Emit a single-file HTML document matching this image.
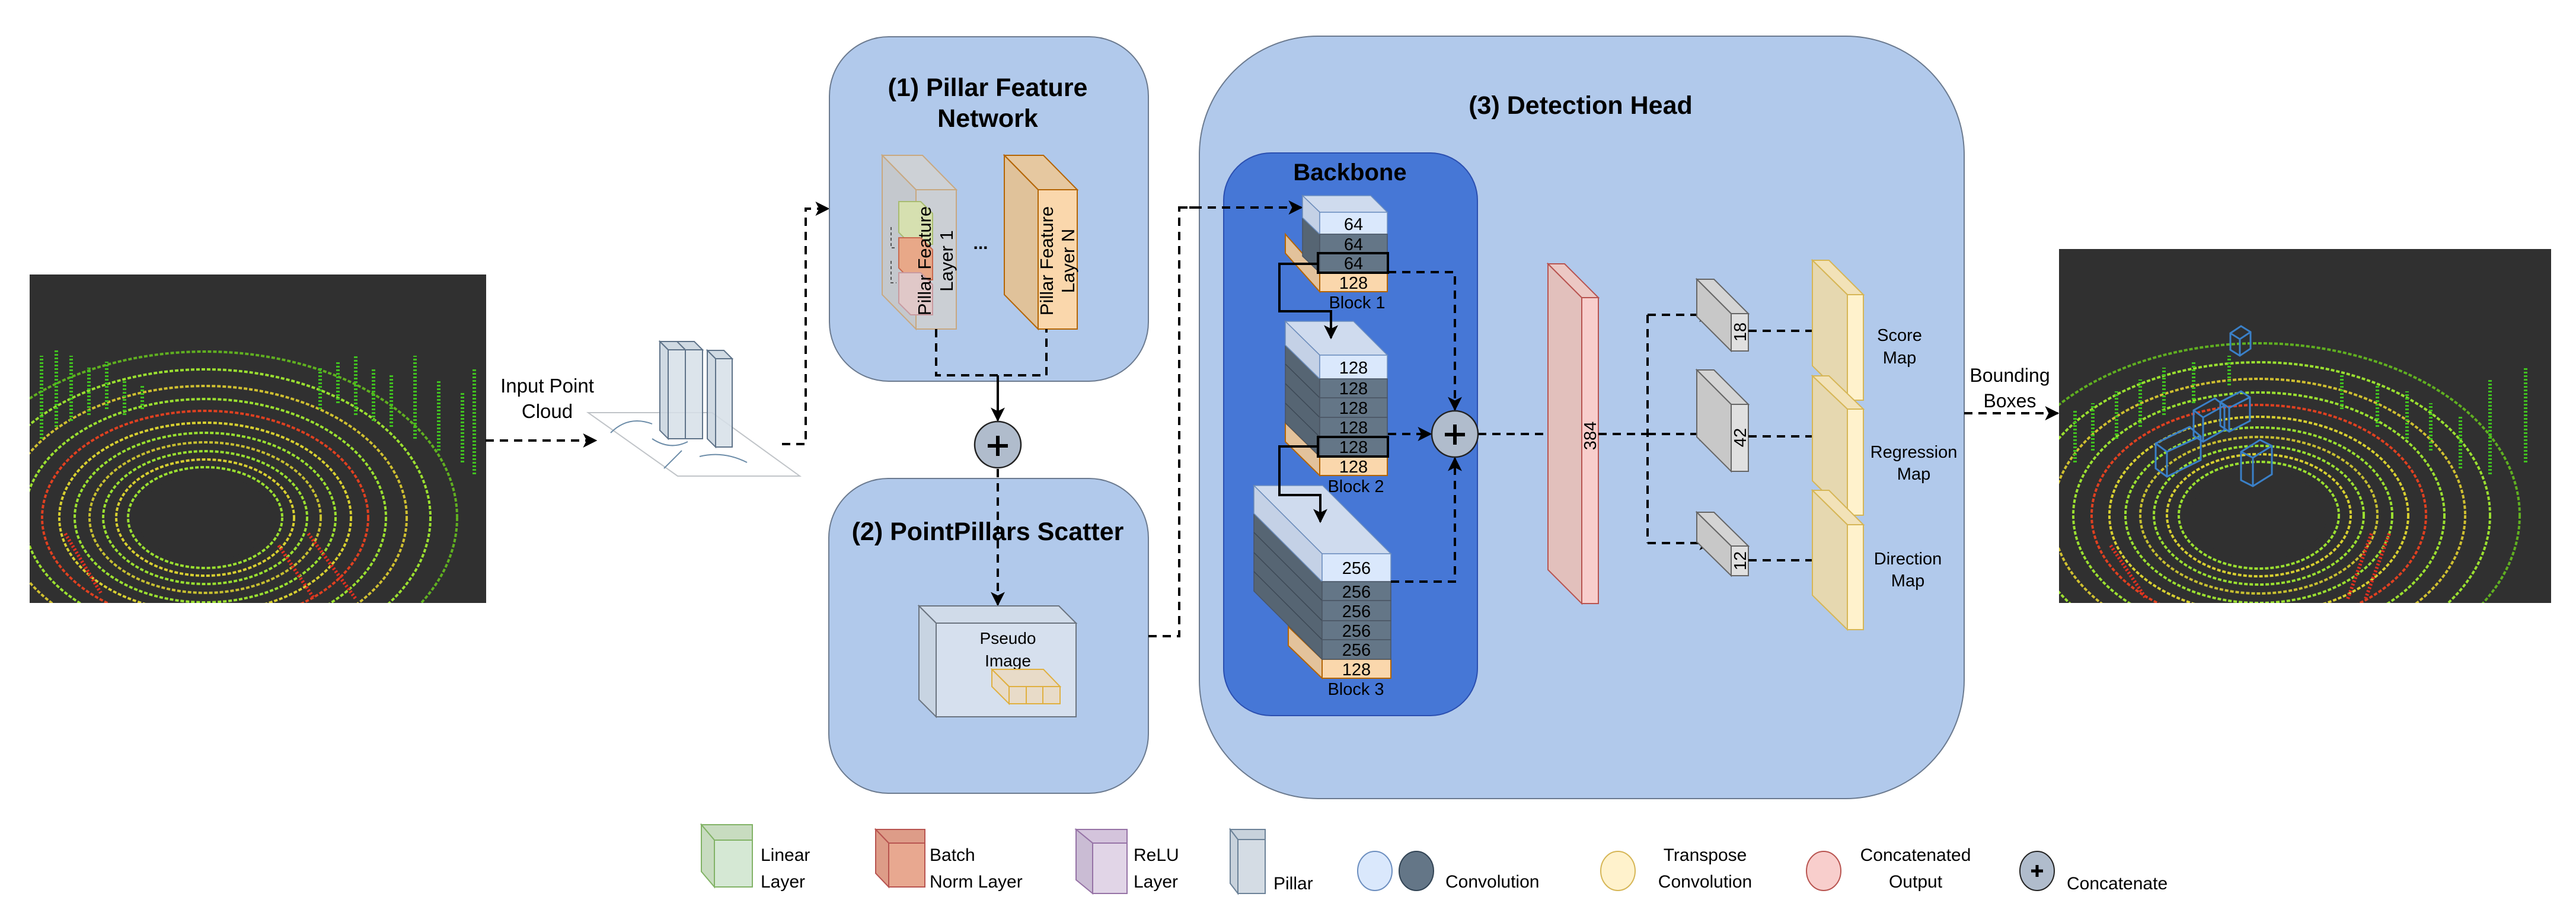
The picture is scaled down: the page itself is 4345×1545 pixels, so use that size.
<!DOCTYPE html>
<html><head><meta charset="utf-8"><style>
html,body{margin:0;padding:0;background:#fff;}
svg{display:block;}
text{font-family:"Liberation Sans",sans-serif;fill:#000;}
</style></head><body>
<svg width="4345" height="1545" viewBox="0 0 4345 1545" xmlns="http://www.w3.org/2000/svg">
<defs>
<marker id="a" viewBox="0 0 20 20" refX="18" refY="10" markerWidth="24" markerHeight="24" markerUnits="userSpaceOnUse" orient="auto">
<path d="M0,0 L20,10 L0,20 L5,10 Z" fill="#000"/></marker>
<clipPath id="cl"><rect x="50" y="463" width="770" height="554"/></clipPath>
<clipPath id="cr"><rect x="3473" y="420" width="830" height="597"/></clipPath>
</defs>

<!-- Left point cloud image -->
<rect x="50" y="463" width="770" height="554" fill="#303030"/>
<g clip-path="url(#cl)" fill="none" stroke-width="4">
<g stroke="#9be030" stroke-dasharray="6 3">
<ellipse cx="346" cy="873" rx="130" ry="85"/>
<ellipse cx="346" cy="873" rx="150" ry="98" stroke="#d8d030"/>
<ellipse cx="346" cy="873" rx="172" ry="112"/>
<ellipse cx="346" cy="873" rx="195" ry="127" stroke="#c8c030"/>
<ellipse cx="346" cy="873" rx="220" ry="143"/>
<ellipse cx="346" cy="873" rx="246" ry="160" stroke="#d8d030"/>
<ellipse cx="346" cy="873" rx="275" ry="180" stroke="#e04020"/>
<ellipse cx="346" cy="873" rx="305" ry="200"/>
<ellipse cx="346" cy="873" rx="340" ry="222" stroke="#d0c030"/>
<ellipse cx="346" cy="873" rx="380" ry="250"/>
<ellipse cx="346" cy="873" rx="425" ry="280" stroke="#60b020"/>
</g>
<g stroke="#40c020" stroke-dasharray="3 3" stroke-width="6">
<path d="M70,740 L70,600 M95,720 L95,590 M120,710 L120,600 M150,700 L150,620 M180,690 L180,610 M210,700 L210,640 M240,690 L240,650 M540,690 L540,620 M570,680 L570,610 M600,700 L600,600 M630,710 L630,620 M660,720 L660,630 M700,740 L700,600 M740,760 L740,640 M780,780 L780,660 M800,800 L800,620"/>
<path d="M520,900 L600,1010 M470,920 L530,1010 M110,900 L170,1000" stroke="#e03020"/>
</g>
<ellipse cx="346" cy="873" rx="115" ry="72" fill="#303030" stroke="none"/>
</g>

<!-- Input arrow & label -->
<path d="M819,743 L1005,743" stroke="#000" stroke-width="4" stroke-dasharray="14 10" fill="none" marker-end="url(#a)"/>
<text x="923" y="662" font-size="33" text-anchor="middle">Input Point</text>
<text x="923" y="705" font-size="33" text-anchor="middle">Cloud</text>

<!-- Plane + pillars -->
<polygon points="992,696 1201,696 1349,803 1143,803" fill="#fff" stroke="#c0c4c8" stroke-width="2"/>
<path d="M1030,730 Q1060,700 1100,715 M1100,740 Q1130,760 1160,745 M1180,770 Q1220,760 1260,780 M1120,790 Q1140,770 1150,760" stroke="#6c8ca8" stroke-width="2" fill="none"/>
<g fill="#c8d3de" fill-opacity="0.85" stroke="#5f7389" stroke-width="2">
<polygon points="1113,576 1142,576 1156,590 1127,590"/>
<polygon points="1113,576 1127,590 1127,740 1113,726"/>
<rect x="1127" y="590" width="29" height="150" fill="#d6dfe8"/>
<polygon points="1142,576 1171,576 1185,590 1156,590"/>
<rect x="1156" y="590" width="29" height="150" fill="#d6dfe8"/>
<polygon points="1193,591 1221,591 1235,605 1207,605"/>
<polygon points="1193,591 1207,605 1207,754 1193,740"/>
<rect x="1207" y="605" width="28" height="149" fill="#d6dfe8"/>
</g>
<path d="M1319,749 L1359,749 L1359,352 L1397,352" stroke="#000" stroke-width="4" stroke-dasharray="14 10" fill="none" marker-end="url(#a)"/>

<!-- Box 1 -->
<rect x="1399" y="62" width="538" height="581" rx="100" fill="#b1c9eb" stroke="#6b7a8f" stroke-width="2"/>
<text x="1666" y="162" font-size="43" font-weight="bold" text-anchor="middle">(1) Pillar Feature</text>
<text x="1666" y="214" font-size="43" font-weight="bold" text-anchor="middle">Network</text>
<g stroke="#c8a880" stroke-width="2">
<polygon points="1488,262 1556,262 1613,320 1545,320" fill="#d2d2d2" fill-opacity="0.85"/>
<polygon points="1488,262 1545,320 1545,555 1488,497" fill="#c8c8c8" fill-opacity="0.85"/>
<rect x="1545" y="320" width="68" height="235" fill="#d0d0d0" fill-opacity="0.85"/>
</g>
<g stroke-width="2">
<polygon points="1516,340 1553,340 1573,360 1573,412 1536,412 1516,392" fill="#d6e0b0" stroke="#a8bc70"/>
<polygon points="1516,401 1553,401 1573,421 1573,472 1536,472 1516,452" fill="#e8a888" stroke="#c86a50"/>
<polygon points="1516,460 1553,460 1573,480 1573,531 1536,531 1516,511" fill="#e0c8c8" stroke="#c89aa0"/>
</g>
<path d="M1503,383 L1503,418 L1512,418 M1503,440 L1503,477 L1512,477" stroke="#555" stroke-width="2" stroke-dasharray="5 4" fill="none"/>
<text transform="translate(1570,440) rotate(-90)" font-size="31" text-anchor="middle">Pillar Feature</text>
<text transform="translate(1607,440) rotate(-90)" font-size="31" text-anchor="middle">Layer 1</text>
<text x="1654" y="420" font-size="30" font-weight="bold" text-anchor="middle">...</text>
<g stroke="#b46504" stroke-width="2">
<polygon points="1694,262 1760,262 1817,320 1751,320" fill="#e6c8a0"/>
<polygon points="1694,262 1751,320 1751,555 1694,497" fill="#e0c29a"/>
<rect x="1751" y="320" width="66" height="235" fill="#fad7ac"/>
</g>
<text transform="translate(1776,440) rotate(-90)" font-size="31" text-anchor="middle">Pillar Feature</text>
<text transform="translate(1812,440) rotate(-90)" font-size="31" text-anchor="middle">Layer N</text>
<path d="M1579,555 L1579,633 L1765,633 L1765,555" stroke="#000" stroke-width="4" stroke-dasharray="14 10" fill="none"/>
<path d="M1683,633 L1683,709" stroke="#000" stroke-width="4" fill="none" marker-end="url(#a)"/>
<circle cx="1683" cy="750" r="39" fill="#b0bccc" stroke="#222" stroke-width="2.5"/>
<path d="M1666,752 L1700,752 M1683,735 L1683,769" stroke="#000" stroke-width="6"/>

<!-- Box 2 -->
<rect x="1398" y="807" width="539" height="531" rx="100" fill="#b1c9eb" stroke="#6b7a8f" stroke-width="2"/>
<text x="1666" y="911" font-size="43" font-weight="bold" text-anchor="middle">(2) PointPillars Scatter</text>
<path d="M1683,791 L1683,1020" stroke="#000" stroke-width="4" stroke-dasharray="14 10" fill="none" marker-end="url(#a)"/>
<g stroke="#6b7480" stroke-width="2">
<polygon points="1550,1022 1786,1022 1815,1051 1579,1051" fill="#d0dbe9"/>
<polygon points="1550,1022 1579,1051 1579,1209 1550,1180" fill="#c8d4e2"/>
<rect x="1579" y="1051" width="236" height="158" fill="#d6e0ee"/>
</g>
<text x="1700" y="1086" font-size="28" text-anchor="middle">Pseudo</text>
<text x="1700" y="1124" font-size="28" text-anchor="middle">Image</text>
<g stroke="#e0b040" stroke-width="2" fill="#f0d8b8" fill-opacity="0.7">
<polygon points="1673,1129 1760,1129 1788,1158 1702,1158"/>
<polygon points="1673,1129 1702,1158 1702,1187 1673,1158"/>
<rect x="1702" y="1158" width="29" height="29"/><rect x="1731" y="1158" width="28" height="29"/><rect x="1759" y="1158" width="29" height="29"/>
</g>
<path d="M1937,1073 L1989,1073 L1989,350 L2195,350" stroke="#000" stroke-width="4" stroke-dasharray="14 10" fill="none" marker-end="url(#a)"/>

<!-- Box 3 -->
<rect x="2023" y="61" width="1290" height="1286" rx="200" fill="#b1c9eb" stroke="#6b7a8f" stroke-width="2"/>
<text x="2666" y="192" font-size="43" font-weight="bold" text-anchor="middle">(3) Detection Head</text>
<rect x="2064" y="258" width="428" height="949" rx="80" fill="#4677d6" stroke="#2b4fb0" stroke-width="2"/>
<text x="2277" y="304" font-size="40" font-weight="bold" text-anchor="middle">Backbone</text>
<path d="M1989,350 L2195,350" stroke="#000" stroke-width="4" stroke-dasharray="14 10" fill="none" marker-end="url(#a)"/>

<!-- Block 1 -->
<g stroke="#b46504" stroke-width="2">
<polygon points="2168,395 2226,460 2226,492 2168,427" fill="#e3c29b"/>
<rect x="2226" y="460" width="114" height="32" fill="#fad7ac"/>
</g>
<g stroke="#4a5563" stroke-width="1.5">
<polygon points="2197,330 2312,330 2340,358 2226,358" fill="#cfdbee" stroke="#6c8ebf"/>
<polygon points="2197,330 2226,358 2226,460 2197,432" fill="#566573"/>
<polygon points="2197,330 2226,358 2226,395 2197,367" fill="#c4d1e6" stroke="#6c8ebf"/>
<rect x="2226" y="358" width="114" height="37" fill="#dae8fc" stroke="#6c8ebf"/>
<rect x="2226" y="395" width="114" height="32" fill="#647687"/>
<rect x="2226" y="427" width="114" height="33" fill="#647687"/>
</g>
<rect x="2223" y="427" width="118" height="33" fill="none" stroke="#000" stroke-width="4"/>
<g font-size="29" text-anchor="middle">
<text x="2283" y="388">64</text><text x="2283" y="422">64</text><text x="2283" y="454">64</text><text x="2283" y="487">128</text>
</g>
<text x="2289" y="520" font-size="29" text-anchor="middle">Block 1</text>

<!-- Block 2 -->
<g stroke="#b46504" stroke-width="2">
<polygon points="2168,713 2226,770 2226,802 2168,745" fill="#e3c29b"/>
<rect x="2226" y="770" width="114" height="32" fill="#fad7ac"/>
</g>
<g stroke="#4a5563" stroke-width="1.5">
<polygon points="2168,542 2283,542 2340,599 2226,599" fill="#cfdbee" stroke="#6c8ebf"/>
<polygon points="2168,542 2226,599 2226,770 2168,713" fill="#566573"/>
<polygon points="2168,542 2226,599 2226,639 2168,582" fill="#c4d1e6" stroke="#6c8ebf"/>
<path d="M2168,614 L2226,671 M2168,647 L2226,704 M2168,680 L2226,737" stroke="#3c4855"/>
<rect x="2226" y="599" width="114" height="40" fill="#dae8fc" stroke="#6c8ebf"/>
<rect x="2226" y="639" width="114" height="32" fill="#647687"/>
<rect x="2226" y="671" width="114" height="33" fill="#647687"/>
<rect x="2226" y="704" width="114" height="33" fill="#647687"/>
<rect x="2226" y="737" width="114" height="33" fill="#647687"/>
</g>
<rect x="2223" y="737" width="118" height="33" fill="none" stroke="#000" stroke-width="4"/>
<g font-size="29" text-anchor="middle">
<text x="2283" y="630">128</text><text x="2283" y="665">128</text><text x="2283" y="698">128</text><text x="2283" y="731">128</text><text x="2283" y="764">128</text><text x="2283" y="797">128</text>
</g>
<text x="2287" y="830" font-size="29" text-anchor="middle">Block 2</text>

<!-- Block 3 -->
<g stroke="#b46504" stroke-width="2">
<polygon points="2173,1057 2230,1112 2230,1144 2173,1089" fill="#e3c29b"/>
<rect x="2230" y="1112" width="116" height="32" fill="#fad7ac"/>
</g>
<g stroke="#4a5563" stroke-width="1.5">
<polygon points="2115,819 2231,819 2346,934 2230,934" fill="#cfdbee" stroke="#6c8ebf"/>
<polygon points="2115,819 2230,934 2230,1112 2115,997" fill="#566573"/>
<polygon points="2115,819 2230,934 2230,981 2115,866" fill="#c4d1e6" stroke="#6c8ebf"/>
<path d="M2115,898 L2230,1013 M2115,932 L2230,1047 M2115,964 L2230,1079" stroke="#3c4855"/>
<rect x="2230" y="934" width="116" height="47" fill="#dae8fc" stroke="#6c8ebf"/>
<rect x="2230" y="981" width="116" height="32" fill="#647687"/>
<rect x="2230" y="1013" width="116" height="34" fill="#647687"/>
<rect x="2230" y="1047" width="116" height="32" fill="#647687"/>
<rect x="2230" y="1079" width="116" height="33" fill="#647687"/>
</g>
<g font-size="29" text-anchor="middle">
<text x="2288" y="968">256</text><text x="2288" y="1008">256</text><text x="2288" y="1041">256</text><text x="2288" y="1074">256</text><text x="2288" y="1106">256</text><text x="2288" y="1139">128</text>
</g>
<text x="2287" y="1172" font-size="29" text-anchor="middle">Block 3</text>

<path d="M2223,445 L2158,445 L2158,525 L2245,525 L2245,570" stroke="#000" stroke-width="4" fill="none" marker-end="url(#a)"/>
<path d="M2223,753 L2158,753 L2158,835 L2227,835 L2227,880" stroke="#000" stroke-width="4" fill="none" marker-end="url(#a)"/>
<g stroke="#000" stroke-width="4" stroke-dasharray="14 10" fill="none">
<path d="M2341,459 L2454,459 L2454,691" marker-end="url(#a)"/>
<path d="M2341,732 L2413,732" marker-end="url(#a)"/>
<path d="M2346,981 L2454,981 L2454,773" marker-end="url(#a)"/>
<path d="M2493,732 L2654,732" marker-end="url(#a)"/>
</g>
<circle cx="2454" cy="732" r="39" fill="#b0bccc" stroke="#222" stroke-width="2.5"/>
<path d="M2437,733 L2471,733 M2454,716 L2454,750" stroke="#000" stroke-width="6"/>

<g stroke="#b85450" stroke-width="2">
<polygon points="2611,445 2668,502 2668,1018 2611,961" fill="#e2c0bc"/>
<polygon points="2611,445 2639,445 2696,502 2668,502" fill="#ecc8c4"/>
<rect x="2668" y="502" width="28" height="516" fill="#f8cecc"/>
</g>
<text transform="translate(2692,735) rotate(-90)" font-size="29" text-anchor="middle">384</text>
<g stroke="#000" stroke-width="4" stroke-dasharray="14 10" fill="none">
<path d="M2696,732 L2779,732"/>
<path d="M2779,531 L2779,916"/>
<path d="M2779,531 L2888,531" marker-end="url(#a)"/>
<path d="M2779,732 L2888,732" marker-end="url(#a)"/>
<path d="M2779,916 L2888,916" marker-end="url(#a)"/>
</g>
<g stroke="#666" stroke-width="2">
<polygon points="2862,471 2891,471 2949,529 2920,529" fill="#d4d4d4"/>
<polygon points="2862,471 2920,529 2920,592 2862,534" fill="#c8c8c8"/>
<rect x="2920" y="529" width="29" height="63" fill="#e0e0e0"/>
<polygon points="2862,624 2891,624 2949,682 2920,682" fill="#d4d4d4"/>
<polygon points="2862,624 2920,682 2920,795 2862,737" fill="#c8c8c8"/>
<rect x="2920" y="682" width="29" height="113" fill="#e0e0e0"/>
<polygon points="2862,864 2891,864 2949,921 2920,921" fill="#d4d4d4"/>
<polygon points="2862,864 2920,921 2920,971 2862,914" fill="#c8c8c8"/>
<rect x="2920" y="921" width="29" height="50" fill="#e0e0e0"/>
</g>
<g font-size="29" text-anchor="middle">
<text transform="translate(2945,560) rotate(-90)">18</text>
<text transform="translate(2945,738) rotate(-90)">42</text>
<text transform="translate(2945,946) rotate(-90)">12</text>
</g>
<g stroke="#000" stroke-width="4" stroke-dasharray="14 10" fill="none">
<path d="M2949,558 L3090,558" marker-end="url(#a)"/>
<path d="M2949,736 L3090,736" marker-end="url(#a)"/>
<path d="M2949,945 L3090,945" marker-end="url(#a)"/>
</g>
<g stroke="#d6b656" stroke-width="2">
<polygon points="3057,439 3085,439 3143,497 3116,497" fill="#f2e2b8"/>
<polygon points="3057,439 3116,497 3116,675 3057,617" fill="#e6d8b0"/>
<rect x="3116" y="497" width="27" height="178" fill="#fff2cc"/>
<polygon points="3057,634 3085,634 3143,690 3116,690" fill="#f2e2b8"/>
<polygon points="3057,634 3116,690 3116,869 3057,811" fill="#e6d8b0"/>
<rect x="3116" y="690" width="27" height="179" fill="#fff2cc"/>
<polygon points="3057,827 3085,827 3143,885 3116,885" fill="#f2e2b8"/>
<polygon points="3057,827 3116,885 3116,1062 3057,1004" fill="#e6d8b0"/>
<rect x="3116" y="885" width="27" height="177" fill="#fff2cc"/>
</g>
<g font-size="29" text-anchor="middle">
<text x="3204" y="575">Score</text><text x="3204" y="613">Map</text>
<text x="3228" y="772">Regression</text><text x="3228" y="809">Map</text>
<text x="3218" y="952">Direction</text><text x="3218" y="989">Map</text>
</g>
<text x="3390" y="644" font-size="32" text-anchor="middle">Bounding</text>
<text x="3390" y="687" font-size="32" text-anchor="middle">Boxes</text>
<path d="M3313,697 L3471,697" stroke="#000" stroke-width="4" stroke-dasharray="14 10" fill="none" marker-end="url(#a)"/>

<!-- Right point cloud image -->
<rect x="3473" y="420" width="830" height="597" fill="#303030"/>
<g clip-path="url(#cr)" fill="none" stroke-width="4">
<g stroke="#9be030" stroke-dasharray="6 3">
<ellipse cx="3810" cy="869" rx="135" ry="90"/>
<ellipse cx="3810" cy="869" rx="155" ry="103" stroke="#d8d030"/>
<ellipse cx="3810" cy="869" rx="177" ry="117"/>
<ellipse cx="3810" cy="869" rx="200" ry="132" stroke="#c8c030"/>
<ellipse cx="3810" cy="869" rx="225" ry="148"/>
<ellipse cx="3810" cy="869" rx="252" ry="166" stroke="#d8d030"/>
<ellipse cx="3810" cy="869" rx="282" ry="186" stroke="#e04020"/>
<ellipse cx="3810" cy="869" rx="313" ry="207"/>
<ellipse cx="3810" cy="869" rx="348" ry="230" stroke="#d0c030"/>
<ellipse cx="3810" cy="869" rx="390" ry="258"/>
<ellipse cx="3810" cy="869" rx="440" ry="290" stroke="#60b020"/>
</g>
<g stroke="#40c020" stroke-dasharray="3 3" stroke-width="6">
<path d="M3500,780 L3500,690 M3530,760 L3530,680 M3570,740 L3570,660 M3610,720 L3610,640 M3650,700 L3650,620 M3700,680 L3700,610 M3760,650 L3760,600 M3950,690 L3950,630 M4010,720 L4010,650 M4060,740 L4060,660 M4100,760 L4100,680 M4150,790 L4150,700 M4200,800 L4200,640 M4260,780 L4260,620"/>
<path d="M4000,900 L3960,1010 M4030,900 L3990,1010 M3560,920 L3620,1010" stroke="#e03020"/>
</g>
<ellipse cx="3810" cy="869" rx="115" ry="76" fill="#303030" stroke="none"/>
<g stroke="#3a80c8" stroke-width="3" fill="none">
<path d="M3762,562 L3780,550 L3796,560 L3796,588 L3778,600 L3762,590 Z M3762,562 L3778,572 L3796,560 M3778,572 L3778,600"/>
<path d="M3745,678 L3780,660 L3795,670 L3795,710 L3760,728 L3745,718 Z M3745,678 L3760,688 L3795,670 M3760,688 L3760,728"/>
<path d="M3700,692 L3736,672 L3752,684 L3752,725 L3716,745 L3700,735 Z M3700,692 L3716,704 L3752,684 M3716,704 L3716,745"/>
<path d="M3636,748 L3693,720 L3712,736 L3712,776 L3655,804 L3636,790 Z M3636,748 L3655,762 L3712,736 M3655,762 L3655,804"/>
<path d="M3780,762 L3812,742 L3832,752 L3832,800 L3800,820 L3780,810 Z M3780,762 L3800,772 L3832,752 M3800,772 L3800,820"/>
</g>
</g>

<!-- Legend -->
<g stroke-width="2">
<polygon points="1183,1391 1269,1391 1269,1417 1205,1417" fill="#c8dcc0" stroke="#82b366"/>
<polygon points="1183,1391 1205,1417 1205,1496 1183,1470" fill="#c8dcc0" stroke="#82b366"/>
<rect x="1205" y="1417" width="64" height="79" fill="#d5e8d4" stroke="#82b366"/>
<polygon points="1477,1399 1560,1399 1560,1422 1499,1422" fill="#dd9c88" stroke="#b85450"/>
<polygon points="1477,1399 1499,1422 1499,1496 1477,1473" fill="#dd9c88" stroke="#b85450"/>
<rect x="1499" y="1422" width="61" height="74" fill="#e8a890" stroke="#b85450"/>
<polygon points="1815,1399 1901,1399 1901,1422 1843,1422" fill="#d4c4dc" stroke="#9673a6"/>
<polygon points="1815,1399 1843,1422 1843,1507 1815,1484" fill="#cabcd4" stroke="#9673a6"/>
<rect x="1843" y="1422" width="58" height="85" fill="#e1d5e7" stroke="#9673a6"/>
<polygon points="2075,1399 2134,1399 2134,1416 2088,1416" fill="#c8d2dc" stroke="#6c8298"/>
<polygon points="2075,1399 2088,1416 2088,1507 2075,1490" fill="#c8d2dc" stroke="#6c8298"/>
<rect x="2088" y="1416" width="46" height="91" fill="#d4dce4" stroke="#6c8298"/>
<ellipse cx="2319" cy="1469" rx="29" ry="33" fill="#dae8fc" stroke="#6c8ebf"/>
<ellipse cx="2389" cy="1469" rx="29" ry="33" fill="#647687" stroke="#314354"/>
<ellipse cx="2729" cy="1469" rx="29" ry="33" fill="#fff2cc" stroke="#d6b656"/>
<ellipse cx="3076" cy="1469" rx="29" ry="33" fill="#f8cecc" stroke="#b85450"/>
<ellipse cx="3436" cy="1469" rx="29" ry="33" fill="#b0bccc" stroke="#222"/>
</g>
<path d="M3426,1469 L3446,1469 M3436,1459 L3436,1479" stroke="#000" stroke-width="5"/>
<g font-size="30">
<text x="1283" y="1452">Linear</text><text x="1283" y="1497">Layer</text>
<text x="1568" y="1452">Batch</text><text x="1568" y="1497">Norm Layer</text>
<text x="1912" y="1452">ReLU</text><text x="1912" y="1497">Layer</text>
<text x="2148" y="1500">Pillar</text>
<text x="2438" y="1497">Convolution</text>
<text x="2876" y="1452" text-anchor="middle">Transpose</text><text x="2876" y="1497" text-anchor="middle">Convolution</text>
<text x="3231" y="1452" text-anchor="middle">Concatenated</text><text x="3231" y="1497" text-anchor="middle">Output</text>
<text x="3486" y="1500">Concatenate</text>
</g>
</svg>
</body></html>
